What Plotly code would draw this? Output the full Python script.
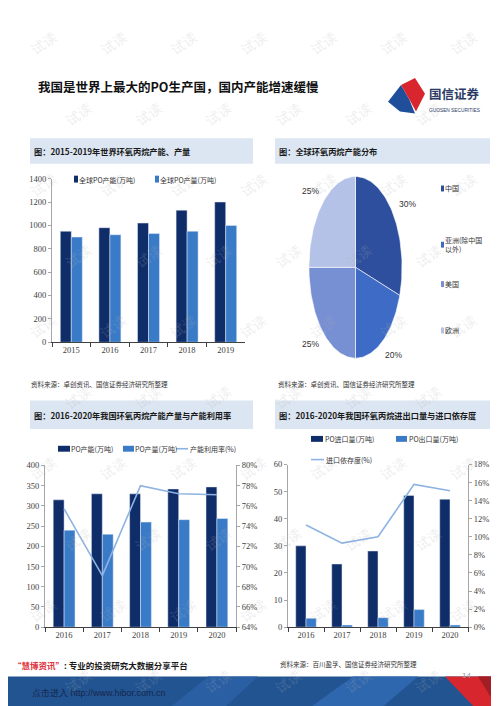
import numpy as np
import plotly.graph_objects as go

W, H = 499, 706
def px(x): return x / W
def py(y): return 1 - y / H

# ---------------- data ----------------
years_global = ["2015", "2016", "2017", "2018", "2019"]
global_capacity = [950, 980, 1020, 1130, 1200]
global_output = [900, 920, 930, 950, 1000]

regions = ["中国", "亚洲(除中国<br>以外)", "美国", "欧洲"]
region_share = [30, 20, 25, 25]
region_labels = ["30%", "20%", "25%", "25%"]

years_cn = ["2016", "2017", "2018", "2019", "2020"]
cn_capacity = [315, 330, 330, 342, 347]
cn_output = [240, 230, 260, 266, 269]
cn_utilization = [75.7, 69.1, 78.0, 77.2, 77.1]

cn_import = [30, 23.3, 28.1, 48.6, 47.2]
cn_export = [3.3, 0.8, 3.5, 6.5, 0.8]
import_dependency = [11.3, 9.3, 10.0, 15.8, 15.1]

# ---------------- styles ----------------
NAVY = "#0F2D69"
MID = "#3A7BC8"
LINEC = "#8DB3E2"
PIE_COLORS = ["#2D4F9E", "#3E6BC6", "#7790D4", "#B4C2E7"]
CJK = "Noto Sans CJK SC"
NUM = "Liberation Serif"
TXT = "#333333"

fig = go.Figure()

# Panel 1: global capacity/output
fig.add_trace(go.Bar(x=years_global, y=global_capacity, name="全球PO产能(万吨)",
                     marker_color=NAVY, xaxis="x", yaxis="y"))
fig.add_trace(go.Bar(x=years_global, y=global_output, name="全球PO产量(万吨)",
                     marker_color=MID, xaxis="x", yaxis="y"))

# Panel 2: elliptical pie drawn from shares
total = sum(region_share)
cum = np.cumsum([0] + region_share) / total
for i, name in enumerate(regions):
    t = np.linspace(cum[i], cum[i + 1], 60) * 2 * np.pi
    xs = np.concatenate([[0], np.sin(t), [0]])
    ys = np.concatenate([[0], np.cos(t), [0]])
    fig.add_trace(go.Scatter(x=xs, y=ys, mode="lines", fill="toself", name=name,
                             fillcolor=PIE_COLORS[i], line=dict(color="white", width=0.6),
                             xaxis="x2", yaxis="y2", hoverinfo="name"))

# Panel 3: China capacity / output / utilization
fig.add_trace(go.Bar(x=years_cn, y=cn_capacity, name="PO产能(万吨)",
                     marker_color=NAVY, xaxis="x3", yaxis="y3"))
fig.add_trace(go.Bar(x=years_cn, y=cn_output, name="PO产量(万吨)",
                     marker_color=MID, xaxis="x3", yaxis="y3"))
fig.add_trace(go.Scatter(x=years_cn, y=cn_utilization, name="产能利用率(%)", mode="lines",
                         line=dict(color=LINEC, width=1.6), xaxis="x3", yaxis="y4"))

# Panel 4: import / export / dependency
fig.add_trace(go.Bar(x=years_cn, y=cn_import, name="PO进口量(万吨)",
                     marker_color=NAVY, xaxis="x5", yaxis="y5"))
fig.add_trace(go.Bar(x=years_cn, y=cn_export, name="PO出口量(万吨)",
                     marker_color=MID, xaxis="x5", yaxis="y5"))
fig.add_trace(go.Scatter(x=years_cn, y=import_dependency, name="进口依存度(%)", mode="lines",
                         line=dict(color=LINEC, width=1.6), xaxis="x5", yaxis="y6"))

tickf = dict(family=NUM, size=8.5, color="#404040")

def xax(x0, x1, anchor):
    return dict(domain=[px(x0), px(x1)], anchor=anchor, type="category",
                showline=True, linecolor="#404040", linewidth=1,
                ticks="outside", tickson="boundaries", ticklen=4, tickcolor="#404040",
                tickfont=tickf, showgrid=False, zeroline=False, fixedrange=True)

def yax(y0, y1, rng, dtick, anchor, **kw):
    d = dict(domain=[py(y0), py(y1)], anchor=anchor, range=rng, dtick=dtick,
             showline=True, linecolor="#A6A6A6", linewidth=1, ticks="outside",
             ticklen=3, tickcolor="#A6A6A6", tickfont=tickf, showgrid=False,
             zeroline=False, fixedrange=True)
    d.update(kw)
    return d

annotations = []
shapes = []

def note(x, y, text, size=8, color=TXT, family=CJK, xanchor="left", weight="normal", **kw):
    a = dict(x=px(x), y=py(y), xref="paper", yref="paper", text=text, showarrow=False,
             xanchor=xanchor, yanchor="middle",
             font=dict(family=family, size=size, color=color, weight=weight))
    a.update(kw)
    annotations.append(a)

def rect(x0, x1, y0, y1, color, layer="above"):
    shapes.append(dict(type="rect", xref="paper", yref="paper", x0=px(x0), x1=px(x1),
                       y0=py(y1), y1=py(y0), fillcolor=color, line=dict(width=0), layer=layer))

def hline(x0, x1, y, color, width=1.6):
    shapes.append(dict(type="line", xref="paper", yref="paper", x0=px(x0), x1=px(x1),
                       y0=py(y), y1=py(y), line=dict(color=color, width=width)))

def path(pts):
    return "M " + " L ".join(f"{px(a)},{py(b)}" for a, b in pts) + " Z"

def poly(pts, color):
    shapes.append(dict(type="path", xref="paper", yref="paper", line=dict(width=0),
                       fillcolor=color, path=path(pts)))

# watermarks
for j, yy in enumerate(range(30, 690, 72)):
    for i in range(7):
        xx = 35 + i * 70 + (35 if j % 2 else 0)
        if xx > 470:
            continue
        note(xx, yy, "试读", size=14, color="rgba(175,175,175,0.22)", xanchor="center",
             textangle=-35)

# title
note(28, 75, "我国是世界上最大的PO生产国，国内产能增速缓慢", size=12.5, color="#111111", weight="bold")

# logo
poly([(380, 90), (393, 73), (401, 87), (407, 102), (392, 100)], "#1F4E9A")
poly([(393, 73), (407, 66), (417, 82), (408, 100), (401, 87)], "#D9262E")
note(419, 82, "国信证券", size=12.5, color="#2A3B66", weight="bold")
note(419, 99, "GUOSEN SECURITIES", size=4.8, color="#2A3B66", family="Liberation Sans")

# headers
for (x0, x1, y0, y1, text) in [
    (22, 245, 127, 153, "图：2015-2019年世界环氧丙烷产能、产量"),
    (267, 482, 127, 153, "图：全球环氧丙烷产能分布"),
    (22, 245, 393, 422, "图：2016-2020年我国环氧丙烷产能产量与产能利用率"),
    (267, 482, 393, 422, "图：2016-2020年我国环氧丙烷进出口量与进口依存度"),
]:
    rect(x0, x1, y0, y1, "#DCE6F2", layer="below")
    note(x0 + 2, (y0 + y1) / 2, text, size=8.2, color="#1A1A1A", weight="bold")

# manual legends
LF = 7
# panel 1
rect(66, 70, 165, 172, NAVY); note(69, 169, "全球PO产能(万吨)", size=LF)
rect(147, 151, 165, 172, MID); note(150, 169, "全球PO产量(万吨)", size=LF)
# panel 2
leg2_y = [178, 235, 275, 322]
for i, name in enumerate(regions):
    rect(433, 436, leg2_y[i] - 3, leg2_y[i] + 3, PIE_COLORS[i])
    note(435, leg2_y[i], name, size=LF, align="left")
# panel 3
rect(50, 62, 439, 445, NAVY); note(61, 442, "PO产能(万吨)", size=LF)
rect(115, 126, 439, 445, MID); note(125, 442, "PO产量(万吨)", size=LF)
hline(168, 180, 442, LINEC); note(180, 442, "产能利用率(%)", size=LF)
# panel 4
rect(303, 315, 429, 435, NAVY); note(315, 432, "PO进口量(万吨)", size=LF)
rect(388, 399, 429, 435, MID); note(399, 432, "PO出口量(万吨)", size=LF)
hline(303, 316, 453, LINEC); note(316, 453, "进口依存度(%)", size=LF)

# sources
note(21, 376, "资料来源：卓创资讯、国信证券经济研究所整理", size=6.5)
note(268, 376, "资料来源：卓创资讯、国信证券经济研究所整理", size=6.5)
note(270, 660, "资料来源：百川盈孚、国信证券经济研究所整理", size=6.5)
note(3, 661, '<span style="color:#E0303A">“慧博资讯”</span>: 专业的投资研究大数据分享平台',
     size=8.5, color="#1A1A1A", weight="bold")

# pie labels (outside, at mid-angles)
for i, lab in enumerate(region_labels):
    m = (cum[i] + cum[i + 1]) / 2 * 2 * np.pi
    annotations.append(dict(x=1.38 * np.sin(m), y=1.19 * np.cos(m), xref="x2", yref="y2",
                            text=lab, showarrow=False,
                            font=dict(family="Liberation Sans", size=8.5, color=TXT)))

# footer
rect(0, 499, 673, 706, "#225492")
poly([(300, 706), (345, 673), (410, 673), (372, 706)], "#2F67AE")
poly([(160, 706), (200, 673), (250, 673), (215, 706)], "#2A5FA3")
poly([(437, 673), (499, 673), (499, 706), (468, 706)], "#D7262E")
poly([(470, 673), (499, 673), (499, 706), (490, 706)], "#A31D24")
note(452, 672, "14", size=8, color="#9A9A9A", family="Liberation Sans")
note(22, 690, "点击进入 http://www.hibor.com.cn", size=9, color="#15264A", family="Liberation Sans")

# pie axes: unit ellipse spans x 300..395, y 164..352 ; extended range keeps labels visible
RX, RY = 1.6, 1.4
ux = 95 / 2.04
uy = 188 / 2.04
cx, cy = 347.5, 258

fig.update_layout(
    width=W, height=H, margin=dict(l=0, r=0, t=0, b=0),
    paper_bgcolor="white", plot_bgcolor="rgba(0,0,0,0)",
    barmode="group", bargap=0.43, bargroupgap=0, showlegend=False,
    font=dict(family=CJK, color=TXT),
    xaxis=xax(44, 237, "y"),
    yaxis=yax(334, 168, [0, 1400], 200, "x"),
    xaxis2=dict(domain=[px(cx - RX * ux), px(cx + RX * ux)], anchor="y2", range=[-RX, RX],
                visible=False, fixedrange=True),
    yaxis2=dict(domain=[py(cy + RY * uy), py(cy - RY * uy)], anchor="x2", range=[-RY, RY],
                visible=False, fixedrange=True),
    xaxis3=xax(37, 228, "y3"),
    yaxis3=yax(623, 459, [0, 400], 50, "x3"),
    yaxis4=yax(623, 459, [64, 80], 2, "x3", overlaying="y3", side="right", ticksuffix="%"),
    xaxis5=xax(280, 460, "y5"),
    yaxis5=yax(623, 458, [0, 60], 10, "x5"),
    yaxis6=yax(623, 458, [0, 18], 2, "x5", overlaying="y5", side="right", ticksuffix="%"),
    annotations=annotations,
    shapes=shapes,
)

fig.write_html("out.html")
